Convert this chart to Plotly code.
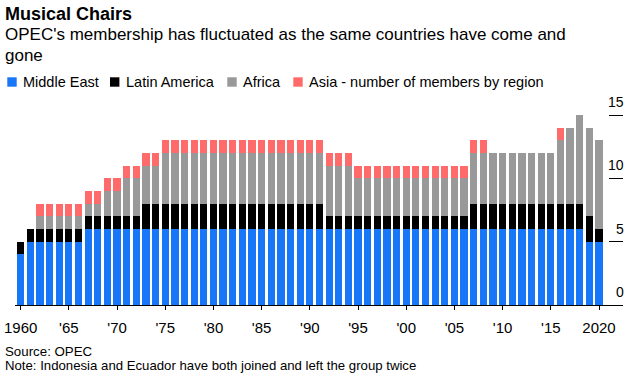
import plotly.graph_objects as go

years = list(range(1960, 2021))
middle_east = [4,5,5,5,5,5,5,6,6,6,6,6,6,6,6,6,6,6,6,6,6,6,6,6,6,6,6,6,6,6,6,6,6,6,6,6,6,6,6,6,6,6,6,6,6,6,6,6,6,6,6,6,6,6,6,6,6,6,6,5,5]
latin_america = [1,1,1,1,1,1,1,1,1,1,1,1,1,2,2,2,2,2,2,2,2,2,2,2,2,2,2,2,2,2,2,2,1,1,1,1,1,1,1,1,1,1,1,1,1,1,1,2,2,2,2,2,2,2,2,2,2,2,2,2,1]
africa = [0,0,1,1,1,1,1,1,1,2,2,3,3,3,3,4,4,4,4,4,4,4,4,4,4,4,4,4,4,4,4,4,4,4,4,3,3,3,3,3,3,3,3,3,3,3,3,4,4,4,4,4,4,4,4,4,5,6,7,7,7]
asia = [0,0,1,1,1,1,1,1,1,1,1,1,1,1,1,1,1,1,1,1,1,1,1,1,1,1,1,1,1,1,1,1,1,1,1,1,1,1,1,1,1,1,1,1,1,1,1,1,1,0,0,0,0,0,0,0,1,0,0,0,0]

series_names = ["Middle East", "Latin America", "Africa", "Asia - number of members by region"]
series_values = [middle_east, latin_america, africa, asia]
colors = ["#1877f8", "#000000", "#999999", "#ff6b6b"]

x_tickvals = list(range(1960, 2021, 5))
x_ticktext = ["1960", "'65", "'70", "'75", "'80", "'85", "'90", "'95", "'00", "'05", "'10", "'15", "2020"]
y_tickvals = [0, 5, 10, 15]

FONT = "Liberation Sans, Arial, Helvetica, sans-serif"

fig = go.Figure()
for name, vals, c in zip(series_names, series_values, colors):
    fig.add_trace(go.Bar(x=years, y=vals, name=name, marker=dict(color=c, line=dict(width=0)),
                         showlegend=False))

W, H = 631, 375
L, R, T, B = 15, 8, 100, 70
pw, ph = W - L - R, H - T - B

def px(x):
    return (x - L) / pw

def py(y):
    return (H - B - y) / ph

annotations = [
    dict(text="<b>Musical Chairs</b>", x=px(3), y=py(14), font=dict(size=18)),
    dict(text="OPEC's membership has fluctuated as the same countries have come and",
         x=px(3), y=py(35), font=dict(size=17)),
    dict(text="gone", x=px(3), y=py(55), font=dict(size=17)),
    dict(text="Source: OPEC", x=px(3), y=py(351), font=dict(size=13.3)),
    dict(text="Note: Indonesia and Ecuador have both joined and left the group twice",
         x=px(3), y=py(365), font=dict(size=13.2)),
]

# legend built from squares + labels
legend_sq_x = [7.3, 110, 227.3, 293.3]
legend_txt_x = [21, 124.3, 240.6, 306.6]
shapes = []
for n, c, sx, tx in zip(series_names, colors, legend_sq_x, legend_txt_x):
    shapes.append(dict(type="rect", xref="paper", yref="paper", x0=px(sx), x1=px(sx + 9.4),
                       y0=py(86.7), y1=py(77.3), fillcolor=c, line=dict(width=0)))
    annotations.append(dict(text=n, x=px(tx), y=py(82), font=dict(size=14.5)))

for a in annotations:
    a.update(xref="paper", yref="paper", xanchor="left", yanchor="middle", showarrow=False, align="left")

# y tick labels (placed above the tick marks, as in the reference)
for v in y_tickvals:
    annotations.append(dict(text=str(v), xref="paper", yref="y", x=px(626), y=v, xanchor="right",
                            yanchor="bottom", yshift=3, showarrow=False, font=dict(size=14)))

fig.update_layout(
    width=W, height=H,
    margin=dict(l=L, r=R, t=T, b=B),
    barmode="stack", bargap=0.25,
    plot_bgcolor="white", paper_bgcolor="white",
    font=dict(family=FONT, color="black"),
    annotations=annotations, shapes=shapes,
    xaxis=dict(range=[1959.41, 2022.49], tickvals=x_tickvals, ticktext=x_ticktext,
               ticks="outside", ticklen=4, tickcolor="black", showline=True, linecolor="black",
               linewidth=1, showgrid=False, zeroline=False, tickfont=dict(size=15),
               ticklabelstandoff=5, automargin=False),
    yaxis=dict(range=[0, 16.2], side="right", tickvals=y_tickvals, ticks="inside", ticklen=14,
               tickcolor="black", showticklabels=False, showgrid=False, zeroline=False,
               showline=False, automargin=False),
)

fig.write_html("out.html", config={"displayModeBar": False},
               post_script="document.body.style.margin='0';")
